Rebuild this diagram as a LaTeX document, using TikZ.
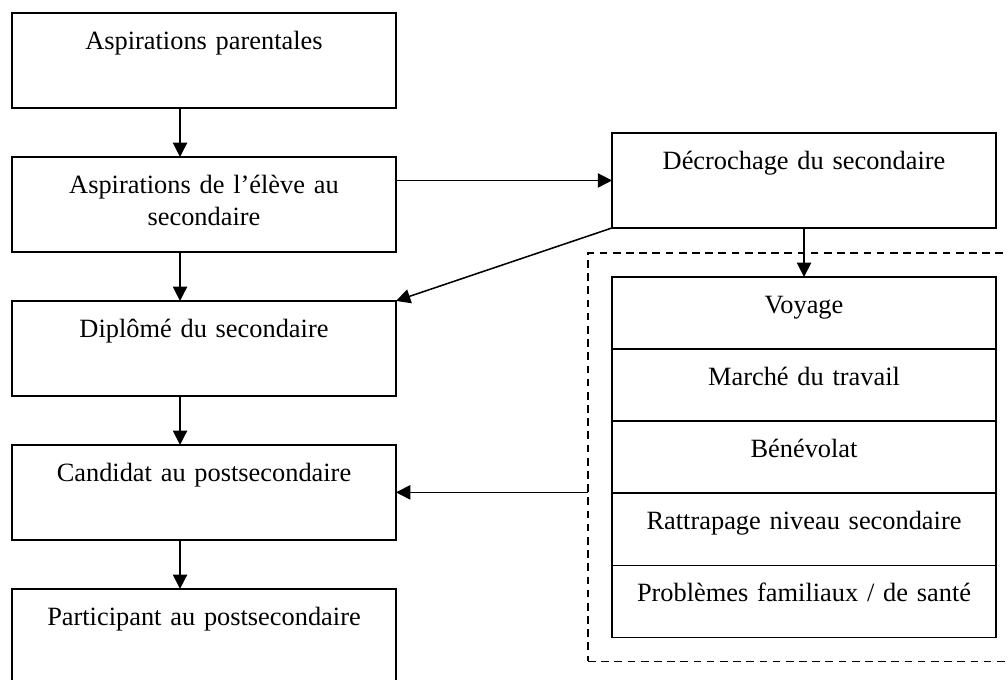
\documentclass[tikz,border=0pt]{standalone}
\usepackage{fontspec}
\setmainfont{Liberation Serif}
\usepackage{tikz}
\usetikzlibrary{positioning,arrows.meta,fit,calc}
\tikzset{
    etape/.style={
        rectangle,
        draw=black,
        line width=0.7pt,
        align=center,
        inner xsep=4pt,
        inner ysep=0pt,
        text width=166.7pt,
        text height=16.6pt,
        text depth=26.6pt,
        outer sep=0pt,
        font=\fontsize{12pt}{14.5pt}\selectfont,
    },
    raison/.style={
        etape,
        text height=16.4pt,
        text depth=16.4pt,
    },
    cadre/.style={
        draw=black,
        line width=0.7pt,
        dash pattern=on 3.5pt off 2.5pt,
        inner sep=10.9pt,
        outer sep=0pt,
    },
    connector/.style={
        -{Triangle[length=6.5pt,width=6.5pt]},
        line width=0.7pt,
    },
}
\begin{document}
\begin{tikzpicture}[node distance=22.3pt]
    % page frame: first box sits at the origin
    \useasboundingbox (-92.81pt,27.5pt) rectangle ++(458.6pt,-309pt);
    \node[etape](parents) {Aspirations parentales};
    \node[etape,below=of parents](eleve) {Aspirations de l’élève au\\secondaire};
    \node[etape,below=of eleve](diplome) {Diplômé du secondaire};
    \node[etape,below=of diplome](candidat) {Candidat au postsecondaire};
    \node[etape,below=of candidat](participant) {Participant au postsecondaire};
    \node[etape,right=98.3pt of eleve,yshift=10.9pt](decrochage) {Décrochage du secondaire};
    \node[raison,below=of decrochage](voyage) {Voyage};
    \node[raison,below=0pt of voyage](travail) {Marché du travail};
    \node[raison,below=0pt of travail](benevolat) {Bénévolat};
    \node[raison,below=0pt of benevolat](rattrapage) {Rattrapage niveau secondaire};
    \node[raison,below=0pt of rattrapage](sante) {Problèmes familiaux / de santé};
    \node[cadre,fit=(voyage)(sante)](activites){};
    \draw[connector] ([xshift=-10.9pt]parents.south) -- ([xshift=-10.9pt]eleve.north);
    \draw[connector] ([xshift=-10.9pt]eleve.south) -- ([xshift=-10.9pt]diplome.north);
    \draw[connector] ([xshift=-10.9pt]diplome.south) -- ([xshift=-10.9pt]candidat.north);
    \draw[connector] ([xshift=-10.9pt]candidat.south) -- ([xshift=-10.9pt]participant.north);
    \draw[connector] (eleve.east |- decrochage.west) -- (decrochage.west);
    \draw[connector] (decrochage.south west) -- (diplome.north east);
    \draw[connector] (decrochage.south) -- (voyage.north);
    \draw[connector] (activites.west |- candidat.east) -- (candidat.east);
\end{tikzpicture}
\end{document}
